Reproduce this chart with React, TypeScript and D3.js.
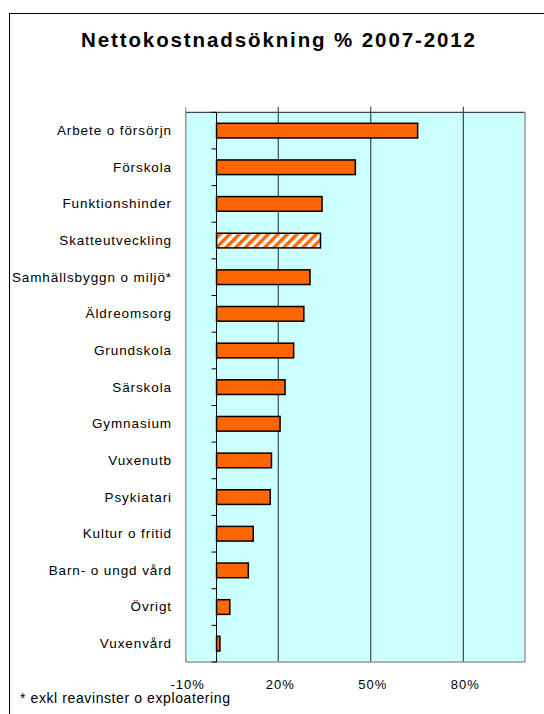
import React from "react";
import * as d3 from "d3";

const categories = [
  "Arbete o försörjn",
  "Förskola",
  "Funktionshinder",
  "Skatteutveckling",
  "Samhällsbyggn o miljö*",
  "Äldreomsorg",
  "Grundskola",
  "Särskola",
  "Gymnasium",
  "Vuxenutb",
  "Psykiatari",
  "Kultur o fritid",
  "Barn- o ungd vård",
  "Övrigt",
  "Vuxenvård",
];
const values = [65.2, 45.0, 34.2, 33.7, 30.3, 28.3, 25.0, 22.2, 20.6, 17.8, 17.4, 11.9, 10.3, 4.3, 1.1];
const hatched = ["Skatteutveckling"];
const xTicks = [-10, 20, 50, 80];
const xDomain = [-10, 100];
const title = "Nettokostnadsökning % 2007-2012";
const footnote = "* exkl reavinster o exploatering";

const FONT = "'Liberation Sans', Arial, Helvetica, sans-serif";

export default function App() {
  const W = 544;
  const H = 714;
  const left = 185.7;
  const right = 525;
  const top = 112.3;
  const bottom = 662;

  const x = d3.scaleLinear().domain(xDomain).range([left, right]);
  const y = d3
    .scaleBand<string>()
    .domain(categories)
    .range([top, bottom])
    .paddingInner(0.6)
    .paddingOuter(0.3);
  const step = y.step();
  const x0 = x(0);

  return (
    <svg
      width={W}
      height={H}
      style={{ position: "absolute", left: 0, top: 0, display: "block", background: "#fff" }}
    >
      <defs>
        <pattern
          id="hatch"
          patternUnits="userSpaceOnUse"
          width={6.8}
          height={6.8}
          patternTransform="rotate(45)"
        >
          <rect x={0} y={0} width={6.8} height={6.8} fill="#ffffff" />
          <rect x={0} y={0} width={3.4} height={6.8} fill="#FF6600" />
        </pattern>
      </defs>

      {/* outer frame */}
      <rect x={9.5} y={13.5} width={600} height={800} fill="#fff" stroke="#000" strokeWidth={1} />

      {/* title */}
      <text
        x={278}
        y={47}
        textAnchor="middle"
        fontFamily={FONT}
        fontWeight="bold"
        fontSize={20.5}
        textLength={394}
        lengthAdjust="spacing"
        fill="#000"
      >
        {title}
      </text>

      {/* plot area */}
      <rect x={left} y={top} width={right - left} height={bottom - top} fill="#CCFFFF" />

      {/* gridlines + top ticks */}
      {xTicks.map((t) => (
        <line
          key={"g" + t}
          x1={x(t)}
          x2={x(t)}
          y1={top - 5.5}
          y2={bottom}
          stroke={t === -10 ? "#888" : "#222"}
          strokeWidth={1}
        />
      ))}

      {/* plot borders */}
      <line x1={left} x2={right} y1={top} y2={top} stroke="#444" strokeWidth={1.2} />
      <line x1={left} x2={left} y1={top} y2={bottom} stroke="#999" strokeWidth={1.5} />
      <line x1={right} x2={right} y1={top} y2={bottom} stroke="#999" strokeWidth={1.5} />
      <line x1={left} x2={right} y1={bottom} y2={bottom} stroke="#999" strokeWidth={1.5} />

      {/* category axis at zero */}
      <line x1={x0} x2={x0} y1={top} y2={bottom} stroke="#000" strokeWidth={1} />
      {d3.range(categories.length + 1).map((i) => (
        <line
          key={"t" + i}
          x1={x0 - 5}
          x2={x0}
          y1={top + i * step}
          y2={top + i * step}
          stroke="#000"
          strokeWidth={1}
        />
      ))}

      {/* bars */}
      {categories.map((c, i) => (
        <rect
          key={c}
          x={Math.min(x0, x(values[i]))}
          y={y(c)}
          width={Math.abs(x(values[i]) - x0)}
          height={y.bandwidth()}
          fill={hatched.includes(c) ? "url(#hatch)" : "#FF6600"}
          stroke="#000"
          strokeWidth={1.5}
        />
      ))}

      {/* category labels */}
      {categories.map((c) => (
        <text
          key={"l" + c}
          x={172}
          y={(y(c) as number) + y.bandwidth() / 2}
          dy="0.33em"
          textAnchor="end"
          fontFamily={FONT}
          fontSize={13.5}
          letterSpacing={0.9}
          fill="#000"
        >
          {c}
        </text>
      ))}

      {/* value axis labels */}
      {xTicks.map((t) => (
        <text
          key={"x" + t}
          x={x(t) + 2}
          y={689}
          textAnchor="middle"
          fontFamily={FONT}
          fontSize={13}
          letterSpacing={1}
          fill="#000"
        >
          {t + "%"}
        </text>
      ))}

      {/* footnote */}
      <text
        x={20}
        y={703}
        fontFamily={FONT}
        fontSize={14}
        textLength={210}
        lengthAdjust="spacing"
        fill="#000"
      >
        {footnote}
      </text>
    </svg>
  );
}
